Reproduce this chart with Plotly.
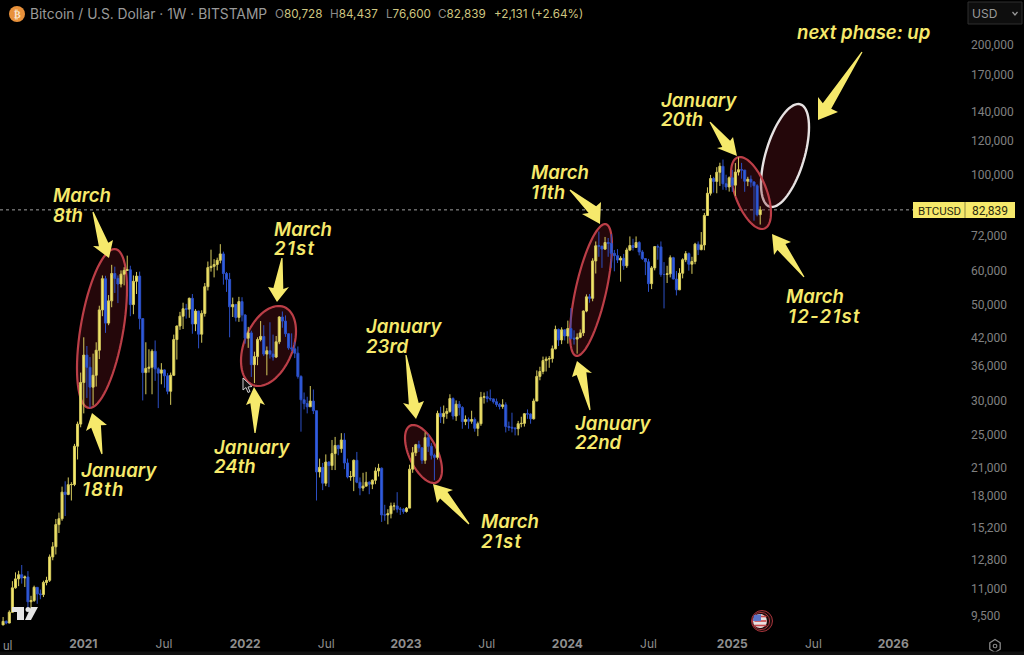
import math
import pandas as pd
import plotly.graph_objects as go

W, H = 1024, 655
PW, PH = 965, 635

opens = [
 9070,9240,9160,9700,11050,11590,11850,11650,11710,10260,10330,11080,10700,10660,11370,11500,13030,13750,15480,15970,18400,18180,19150,19170,23500,26450,
 33000,38200,35800,32200,34300,39200,48600,57400,45300,51000,59000,57500,55800,58800,60000,60200,50000,56600,58200,46400,34800,35600,35800,39000,35500,34700,35300,34200,31500,34300,41500,44600,47000,48900,48800,51700,45100,48300,42700,47700,55000,60900,61300,61900,63300,65500,59000,57200,49400,50000,46700,50800,
 47300,41800,43000,36300,37900,41500,42200,38400,39100,38400,37800,41000,46800,45800,42800,39700,39500,38600,34100,30100,29500,29000,29900,28400,20500,21000,19300,21600,21200,22600,23600,23200,24300,21500,19950,20000,21800,19400,18800,19000,19400,19200,19600,20600,20900,16300,16300,16400,17100,17100,16800,16800,
 16600,16900,20800,22700,23700,23300,21800,24600,23500,22400,22150,28000,27500,28000,28300,30300,27600,29400,28900,26800,27100,26850,27100,25850,26500,30500,30600,30300,30250,29800,29350,29050,29300,26100,26000,25900,25800,26500,26550,27950,27900,27200,29900,34100,35000,37100,37400,37500,39500,43800,41400,43700,
 42300,44000,41800,41600,42000,43000,48300,52100,51700,63100,68400,68300,67200,69600,69300,65700,64900,63400,64000,61500,66900,68500,67800,69600,66200,63900,62800,55900,60800,68100,68000,58700,58700,58900,64200,57300,54100,59100,63500,65600,62000,62900,69000,67000,68700,80400,90500,97900,96400,101200,104500,95200,93600,
 98300,94500,101300,102600,102400,96500,97500,96100,94200,80728,
]
highs = [
 9460,9290,9800,11450,12000,12100,12480,11800,12080,10590,11180,11100,10950,11480,11720,13200,14100,15950,16500,18950,19500,19900,19400,23800,26800,34800,
 42000,40100,37800,38500,40900,49700,58400,58300,52600,61800,61200,58400,60000,61000,64900,61500,58400,59500,59600,46500,40900,39400,39400,41300,35800,36600,35400,34700,34800,42600,44700,48100,50500,50200,51900,52900,48800,48400,48500,56100,62900,67000,63700,64200,69000,66300,59500,59200,51900,50200,52100,52000,
 47500,44400,43500,38900,42000,45800,44800,40000,45500,42600,42300,47000,48200,47200,42900,42900,41000,40000,34300,31300,30600,32400,31800,28400,22000,21500,22500,21700,24300,24700,23700,25200,25200,22000,20600,21900,22800,19900,20400,20500,19500,19700,21000,21400,21000,17200,16800,17400,17400,18400,17000,16900,
 17000,21300,23400,23800,24200,23400,25300,25100,23900,22600,28400,29000,29200,28800,31000,30500,30000,29900,29100,27700,27400,28400,27400,26800,31400,31300,31500,31800,30300,30300,29600,30200,29700,26800,28100,26000,26900,27500,28000,28600,28000,30300,35200,35900,37900,37900,38000,40200,44700,44000,44300,43800,
 45900,49100,43600,42900,43800,48500,52800,52900,64000,70000,73800,68300,71700,71300,72800,66900,67200,64700,65500,67700,71900,71000,71900,70100,66900,63900,63800,61400,68300,68900,70000,62700,61500,65000,64500,59800,60700,64000,66500,66000,64500,69500,70000,73600,81500,93400,99800,98800,104000,106500,108300,99900,99000,
 102500,106300,109600,106400,102500,98800,99500,96500,95000,84437,
]
lows = [
 9050,9100,9150,9700,11000,11150,11300,11100,9900,9850,10250,10150,10400,10520,11200,11400,12800,13200,14800,15800,16200,18100,17600,19000,21900,26000,
 28000,30400,28800,29200,32300,37400,47000,43000,44800,49300,53200,50400,54800,55400,59800,47000,47500,52900,43800,30000,31000,34800,31000,33300,28800,32700,32100,31000,29300,34200,37300,43700,43900,46400,46600,42800,43400,39600,40800,46900,53900,59600,57800,60000,62300,55600,53500,42000,46800,45700,45600,45700,
 40600,39700,34000,32900,36200,41100,38000,34300,37500,37100,37600,40500,44200,42100,39300,39000,37600,33700,25400,28600,28000,29000,27900,17600,19900,18600,19000,18900,20700,20700,22400,22700,20800,19800,19550,18500,19300,18100,18500,19000,18200,18700,19200,20000,15700,15800,15500,16000,16700,16500,16300,16400,
 16500,16900,20400,22300,22800,21400,21400,22800,21900,19600,21900,26600,26500,27200,28100,27100,26900,27700,25800,26300,25800,26500,25400,24800,26200,29500,29700,29900,29500,29000,28600,28700,25300,25500,25300,24900,24900,26000,26100,27200,26500,27100,29900,33400,34500,35000,35700,36700,39400,40100,40500,41300,
 40600,41500,40400,38500,41800,42300,48000,50500,50900,59000,64500,60800,66900,64500,60800,59700,62400,56500,60200,60800,66500,66700,67600,65000,63400,58500,53500,54300,60000,63500,58000,49000,56100,57800,57200,52500,54000,57500,62700,59900,58900,62000,65100,66800,66800,80300,89400,90800,90500,94100,92200,92000,91300,
 91200,89300,99500,97800,91200,94000,93400,78200,80000,76600,
]
closes = [
 9240,9160,9700,11050,11590,11850,11650,11710,10260,10330,11080,10700,10660,11370,11500,13030,13750,15480,15970,18400,18180,19150,19170,23500,26450,33000,
 38200,35800,32200,34300,39200,48600,57400,45300,51000,59000,57500,55800,58800,60000,60200,50000,56600,58200,46400,34800,35600,35800,39000,35500,34700,35300,34200,31500,34300,41500,44600,47000,48900,48800,51700,45100,48300,42700,47700,55000,60900,61300,61900,63300,65500,59000,57200,49400,50000,46700,50800,47300,
 41800,43000,36300,37900,41500,42200,38400,39100,38400,37800,41000,46800,45800,42800,39700,39500,38600,34100,30100,29500,29000,29900,28400,20500,21000,19300,21600,21200,22600,23600,23200,24300,21500,19950,20000,21800,19400,18800,19000,19400,19200,19600,20600,20900,16300,16300,16400,17100,17100,16800,16800,16600,
 16900,20800,22700,23700,23300,21800,24600,23500,22400,22150,28000,27500,28000,28300,30300,27600,29400,28900,26800,27100,26850,27100,25850,26500,30500,30600,30300,30250,29800,29350,29050,29300,26100,26000,25900,25800,26500,26550,27950,27900,27200,29900,34100,35000,37100,37400,37500,39500,43800,41400,43700,42300,
 44000,41800,41600,42000,43000,48300,52100,51700,63100,68400,68300,67200,69600,69300,65700,64900,63400,64000,61500,66900,68500,67800,69600,66200,63900,62800,55900,60800,68100,68000,58700,58700,58900,64200,57300,54100,59100,63500,65600,62000,62900,69000,67000,68700,80400,90500,97900,96400,101200,104500,95200,93600,98300,
 94500,101300,102600,102400,96500,97500,96100,94200,80728,82839,
]
assert len(opens) == len(highs) == len(lows) == len(closes)
LAST_WEEK = "2025-03-10"
weeks = pd.date_range(end=LAST_WEEK, periods=len(closes), freq="7D")

x_tick_dates = ["2021-01-03","2021-07-04","2022-01-03","2022-07-05","2023-01-01","2023-07-02","2023-12-31","2024-07-01","2025-01-06","2025-07-08","2026-01-04"]
x_tick_labels = ["<b>2021</b>","Jul","<b>2022</b>","Jul","<b>2023</b>","Jul","<b>2024</b>","Jul","<b>2025</b>","Jul","<b>2026</b>"]
y_ticks = [200000,170000,140000,120000,100000,72000,60000,50000,42000,36000,30000,25000,21000,18000,15200,12800,11000,9500]
last_price = 82839

YEL = "#f6e96b"
GRY = "#8c8c8c"
FONT = "Inter, Roboto, sans-serif"
UIF = "Roboto, Inter, sans-serif"

def px(x): return x / PW
def py(y): return 1 - y / PH
def poly(pts): return "M" + " L".join(f"{px(a):.5f},{py(b):.5f}" for a, b in pts) + " Z"

shapes, annos = [], []

def shape_path(pts, fill, line="rgba(0,0,0,0)", w=0, layer="above"):
    shapes.append(dict(type="path", xref="paper", yref="paper", path=poly(pts), fillcolor=fill,
                       line=dict(color=line, width=w), layer=layer))

def ellipse(cx, cy, hw, hh, rho, line, w=2.2):
    s = math.sqrt(1 - rho * rho)
    pts = []
    for i in range(72):
        t = 2 * math.pi * i / 72
        pts.append((cx + hw * math.cos(t), cy + hh * (rho * math.cos(t) + s * math.sin(t))))
    shape_path(pts, "rgba(120,22,32,0.30)", line, w, "below")

def arrow(tip, wing_a, wing_b, tail):
    bx = (wing_a[0] + wing_b[0]) / 2
    by = (wing_a[1] + wing_b[1]) / 2
    nx = bx + (tip[0] - bx) * 0.10
    ny = by + (tip[1] - by) * 0.10
    dx, dy = tail[0] - tip[0], tail[1] - tip[1]
    d = math.hypot(dx, dy)
    ux, uy = -dy / d, dx / d
    sgn = 1 if (wing_a[0] - bx) * ux + (wing_a[1] - by) * uy > 0 else -1
    n = 5.0 * sgn
    t = 0.6 * sgn
    shape_path([tip, wing_a, (nx + ux * n, ny + uy * n), (tail[0] + ux * t, tail[1] + uy * t),
                (tail[0] - ux * t, tail[1] - uy * t), (nx - ux * n, ny - uy * n), wing_b], YEL)

def text(x, y, s, size=18.6, color=YEL, weight=600, style="italic", xa="left", family=FONT, spacing=None):
    if spacing:
        s = f'<span style="letter-spacing:{spacing}px">{s}</span>'
    annos.append(dict(xref="paper", yref="paper", x=px(x - 2 if xa == "left" else x), y=py(y), text=s, showarrow=False,
                      xanchor=xa, yanchor="middle", align="left",
                      font=dict(family=family, size=size, color=color, weight=weight, style=style)))

# price line
shapes.append(dict(type="line", xref="paper", yref="y", x0=0, x1=px(913), y0=last_price, y1=last_price,
                   line=dict(color="#a0a0a0", width=1, dash="dot"), layer="below"))

# ellipses
RED = "#bb3e47"
ellipse(102, 328.5, 25, 79.5, -0.5, RED)
ellipse(268.5, 346, 27.5, 40, -0.37, RED)
ellipse(423.5, 454, 18.5, 29, 0.55, RED)
ellipse(591, 290, 21, 66, -0.67, RED)
ellipse(785, 155.5, 24, 51.5, -0.55, "#e6e2e2", 2.4)
ellipse(751, 193, 20, 36, 0.55, RED)

# arrows: tip, wing, wing, tail
arrow((109, 258), (93, 246), (113, 240), (93, 212))
arrow((92, 413), (86, 431), (107, 425), (102, 454))
arrow((277, 302), (268, 287), (289, 287), (282, 258))
arrow((254, 387), (246, 405), (265, 405), (255, 433))
arrow((416, 419), (403, 403), (424, 401), (406, 355))
arrow((433, 484), (437, 503), (453, 490), (469, 524))
arrow((600, 224), (582, 214), (601, 202), (570, 190))
arrow((577, 361), (572, 377), (592, 373), (590, 410))
arrow((737, 156), (717, 148), (733, 137), (710, 122))
arrow((772, 234), (774, 255), (791, 242), (804, 277))
arrow((818, 120), (818, 97), (838, 112), (862, 52))

# callouts
for x, y, s, sp in [(53,195,"March",None),(53,215,"8th",None),(81,470,"January",None),(82,489,"18th",1.2),(274,229,"March",None),(274,248,"21st",1.3),
                (214,447,"January",None),(214,466,"24th",None),(366,326,"January",None),(366,346,"23rd",None),(481,521,"March",None),(481,541,"21st",1.3),
                (531,172,"March",None),(531,192,"11th",None),(575,423,"January",None),(575,442,"22nd",None),(661,100,"January",None),(661,119,"20th",None),
                (786,296,"March",None),(788,316,"12-21st",1.3),(797,32,"next phase: up",None)]:
    text(x, y, s, spacing=sp)

# header
shapes.append(dict(type="circle", xref="paper", yref="paper", x0=px(9), x1=px(25), y0=py(22), y1=py(6),
                   fillcolor="#e8913b", line=dict(width=0), layer="above"))
text(17, 14, "₿", 10, "#f8e4cc", 700, "normal", "center", "DejaVu Sans")
text(29.5, 14, "Bitcoin / U.S. Dollar · 1W · BITSTAMP", 13.8, "#9a9a9a", 400, "normal")
HV = "#cfc680"
for x, p, v in [(275, "O", "80,728"), (330, "H", "84,437"), (386, "L", "76,600"), (438, "C", "82,839")]:
    text(x, 14, f'<span style="color:#8a8a8a">{p}</span>{v}', 11.7, HV, 400, "normal")
text(494, 14, "+2,131 (+2.64%)", 11.7, HV, 400, "normal")

# price label and currency button
shapes.append(dict(type="rect", xref="paper", yref="paper", x0=px(913), x1=px(1015), y0=py(218), y1=py(202),
                   fillcolor=YEL, line=dict(width=0), layer="above"))
shapes.append(dict(type="line", xref="paper", yref="paper", x0=px(965), x1=px(965), y0=py(218), y1=py(202),
                   line=dict(color="#8f8840", width=1), layer="above"))
text(939, 210.5, "BTCUSD", 11.5, "#2a2a10", 400, "normal", "center", UIF)
text(990, 210.5, "82,839", 12, "#2a2a10", 400, "normal", "center", UIF)
shapes.append(dict(type="rect", xref="paper", yref="paper", x0=px(968), x1=px(1022), y0=py(24), y1=py(2),
                   fillcolor="#0e0e0e", line=dict(color="#2e2e2e", width=1), layer="above"))
text(972, 13.5, "USD", 12, "#9a9a9a", 400, "normal")
shapes.append(dict(type="path", xref="paper", yref="paper",
                   path=f"M{px(1012.5)},{py(12)} L{px(1015)},{py(15)} L{px(1017.5)},{py(12)}",
                   line=dict(color="#9a9a9a", width=1.2), layer="above"))

# first month label, cut by the left edge in the reference
text(2.5, 646, "ul", 12, "#8f8f8f", 400, "normal", "left", UIF)

# TradingView mark
shape_path([(12,607),(24,607),(24,620),(17,620),(17,612),(12,612)], "#e4e4e4")
shapes.append(dict(type="circle", xref="paper", yref="paper", x0=px(25.5), x1=px(30.5), y0=py(612), y1=py(607),
                   fillcolor="#e4e4e4", line=dict(width=0), layer="above"))
shape_path([(31,607),(38,607),(31,620),(25,620)], "#e4e4e4")

# flag marker
def disc(x, y, r, fill, line=None, w=0):
    shapes.append(dict(type="circle", xref="paper", yref="paper", x0=px(x-r), x1=px(x+r), y0=py(y+r), y1=py(y-r),
                       fillcolor=fill, line=dict(color=line or "rgba(0,0,0,0)", width=w), layer="above"))
disc(762, 621, 10.5, "#1a0a0a", "#a5343b", 1)
disc(761, 621, 8.6, "#1a0a0a", "#a5343b", 1)
disc(760, 621, 7, "#e9e2e2")
for yy in (616.5, 621, 625.5):
    shapes.append(dict(type="line", xref="paper", yref="paper", x0=px(754.5), x1=px(766.5), y0=py(yy), y1=py(yy),
                       line=dict(color="#c8474a", width=1.6), layer="above"))
shape_path([(754,615),(761,614.3),(761,621),(753,621)], "#5b74c8")

# cursor
shape_path([(243,378),(243,390),(246,387.5),(248,392.5),(250,391.5),(248,387),(252,386.5)], "#111111", "#cfcfcf", 1)

# settings hexagon
hexa = [(995 + 6 * math.sin(math.pi * k / 3), 646 + 6.5 * math.cos(math.pi * k / 3)) for k in range(6)]
shape_path(hexa, "rgba(0,0,0,0)", "#8a8a8a", 1.3)
disc(995, 646, 1.8, "rgba(0,0,0,0)", "#8a8a8a", 1.1)

# bottom strip
shapes.append(dict(type="rect", xref="paper", yref="paper", x0=0, x1=px(1024), y0=py(655), y1=py(651.5),
                   fillcolor="#0f0f0f", line=dict(width=0), layer="above"))

fig = go.Figure(go.Candlestick(
    x=weeks, open=opens, high=highs, low=lows, close=closes,
    increasing=dict(line=dict(color="#d6cb5e", width=1), fillcolor=YEL),
    decreasing=dict(line=dict(color="#2c4fc4", width=1), fillcolor="#2f5ee0"),
    whiskerwidth=0, hoverinfo="skip", showlegend=False,
))
fig.update_layout(
    width=W, height=H, autosize=False,
    margin=dict(l=0, r=W - PW, t=0, b=H - PH),
    paper_bgcolor="#000000", plot_bgcolor="#000000",
    showlegend=False, hovermode=False, boxgap=0.06,
    shapes=shapes, annotations=annos,
    font=dict(family=FONT, color=GRY),
    xaxis=dict(type="date", range=["2020-06-29", "2026-06-15"], rangeslider=dict(visible=False),
               tickmode="array", tickvals=x_tick_dates, ticktext=x_tick_labels,
               showgrid=False, zeroline=False, showline=False, ticks="",
               tickangle=0, tickfont=dict(size=12, color="#8f8f8f", family=FONT)),
    yaxis=dict(type="log", range=[math.log10(8594), math.log10(253500)], side="right",
               tickmode="array", tickvals=y_ticks, ticktext=[f"{v:,}" for v in y_ticks],
               showgrid=False, zeroline=False, showline=False, ticks="", ticklabelstandoff=5,
               tickfont=dict(size=12, color="#808080", family=UIF)),
)
fig.write_html("out.html", config={"displayModeBar": False, "staticPlot": True},
               post_script="document.body.style.margin='0';document.body.style.background='#000';document.body.style.overflow='hidden';")
